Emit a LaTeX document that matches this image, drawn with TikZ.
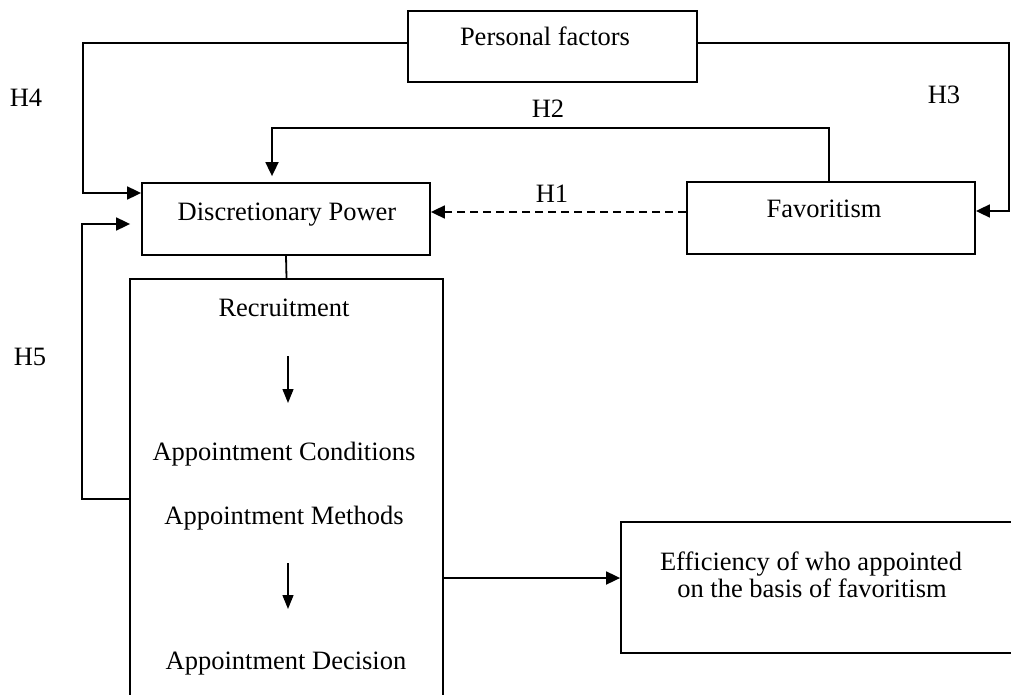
\documentclass[tikz,border=0pt]{standalone}
\usepackage{fontspec}
\setmainfont{Liberation Serif}
\usetikzlibrary{arrows.meta}
\begin{document}
\begin{tikzpicture}[x=1pt,y=-1pt,
  box/.style={draw, line width=1.8pt, inner sep=0pt, minimum width=#1},
  txt/.style={anchor=base, inner sep=0pt, font=\fontsize{26.5}{27}\selectfont},
  conn/.style={line width=1.8pt},
  arr/.style={conn, -{Triangle[length=14pt,width=13pt]}},
  arrsmall/.style={line width=1.4pt, -{Triangle[length=14pt,width=11pt]}}
]
\useasboundingbox (0,0) rectangle (1011,695);
\clip (0,0) rectangle (1011,695);
\fill[white] (0,0) rectangle (1011,695);

% boxes
\node[box=289pt, minimum height=71pt] (pers) at (552.5,46.5) {};
\node[box=288pt, minimum height=72pt] (disc) at (286,219) {};
\node[box=288pt, minimum height=72pt] (fav) at (831,218) {};
\node[box=313pt, minimum height=442pt] (proc) at (286.5,500) {};
\node[box=409pt, minimum height=131pt] (eff) at (825.5,587.5) {};

% texts
\node[txt] (tpers) at (545,46) {Personal factors};
\node[txt] (tdisc) at (287,220) {Discretionary Power};
\node[txt] (tfav) at (824,217) {Favoritism};
\node[txt] (h1) at (552,202) {H1};
\node[txt] (h2) at (548,118) {H2};
\node[txt] (h3) at (944,104) {H3};
\node[txt] (h4) at (26,107) {H4};
\node[txt] (h5) at (30,365) {H5};
\node[txt] (trec) at (284,316) {Recruitment};
\node[txt] (tcond) at (284,460) {Appointment Conditions};
\node[txt] (tmeth) at (284,524) {Appointment Methods};
\node[txt] (tdec) at (286,669) {Appointment Decision};
\node[txt] (teff1) at (811,570) {Efficiency of who appointed};
\node[txt] (teff2) at (812,597) {on the basis of favoritism};

% connectors
\draw[arr] ([yshift=3.5pt]pers.west) -- (83,43) -- (83,193) -- ([yshift=26pt]disc.west);
\draw[arr] ([yshift=3.5pt]pers.east) -- (1009,43) -- (1009,211) -- ([yshift=7pt]fav.east);
\draw[arr, shorten >=6pt] ([xshift=-2pt]fav.north) -- (829,128) -- (272,128) -- ([xshift=-14pt]disc.north);
\draw[arr, dash pattern=on 8pt off 5pt] ([yshift=6pt]fav.west) -- ([yshift=7pt]disc.east);
\draw[arr, shorten >=11pt] ([yshift=1pt]proc.west) -- (82,499) -- (82,224) -- ([yshift=-5pt]disc.west);
\draw[conn] (disc.south) -- (proc.north);
\draw[arr] ([yshift=-78pt]proc.east) -- ([yshift=9.5pt]eff.west);

\coordinate (a1s) at (288,356);
\coordinate (a1e) at (288,403);
\coordinate (a2s) at (288,563);
\coordinate (a2e) at (288,609);
\draw[arrsmall] (a1s) -- (a1e);
\draw[arrsmall] (a2s) -- (a2e);
\end{tikzpicture}
\end{document}
